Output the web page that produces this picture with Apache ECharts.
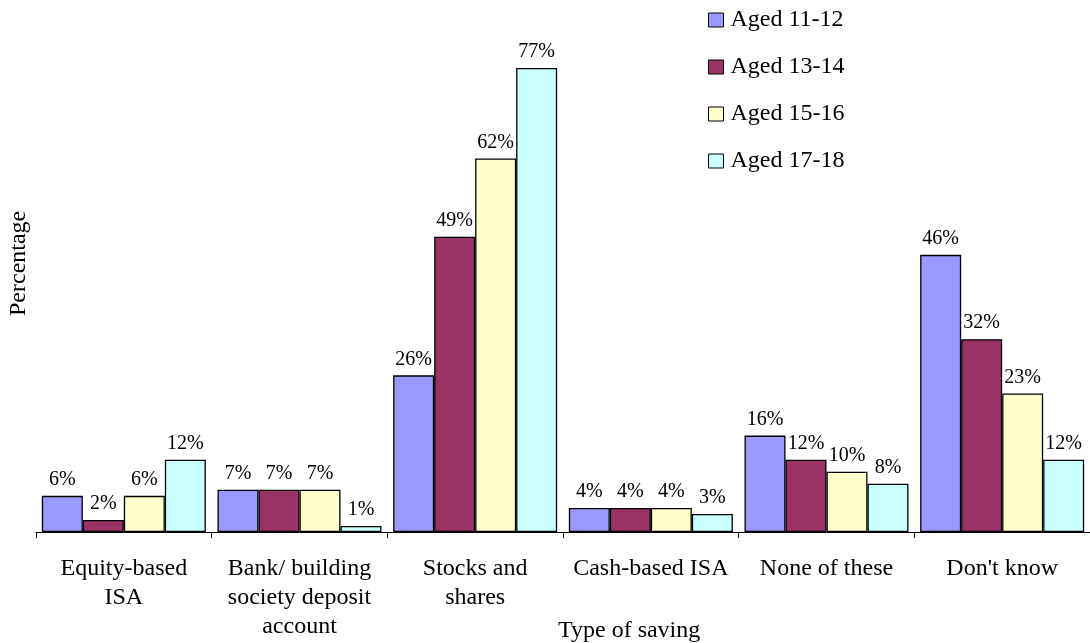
<!DOCTYPE html>
<html>
<head>
<meta charset="utf-8">
<script src="https://cdn.jsdelivr.net/npm/echarts@6/dist/echarts.min.js"></script>
<style>
  html, body { margin: 0; padding: 0; background: #fff; }
  #chart { width: 1090px; height: 643px; }
</style>
</head>
<body>
<div id="chart"></div>
<script>
const categories = ['Equity-based\nISA', 'Bank/ building\nsociety deposit\naccount', 'Stocks and\nshares', 'Cash-based ISA', 'None of these', "Don't know"];
const seriesNames = ['Aged 11-12', 'Aged 13-14', 'Aged 15-16', 'Aged 17-18'];
const aged1112 = [6, 7, 26, 4, 16, 46];
const aged1314 = [2, 7, 49, 4, 12, 32];
const aged1516 = [6, 7, 62, 4, 10, 23];
const aged1718 = [12, 1, 77, 3, 8, 12];
const colors = ['#9999FF', '#993366', '#FFFFCC', '#CCFFFF'];

const font = '"Liberation Serif", "Times New Roman", serif';
const chart = echarts.init(document.getElementById('chart'));

const makeSeries = (name, data, i) => ({
  name: name,
  type: 'bar',
  data: data,
  barWidth: 41,
  barGap: '0%',
  itemStyle: { color: colors[i], borderColor: '#000', borderWidth: 1.3 },
  label: {
    show: true,
    position: 'top',
    distance: 6,
    formatter: '{c}%',
    color: '#000',
    fontFamily: font,
    fontSize: 20
  }
});

chart.setOption({
  animation: false,
  textStyle: { fontFamily: font },
  grid: { left: 36, top: 50, width: 1056, height: 482 },
  legend: {
    orient: 'vertical',
    left: 703,
    top: 3,
    itemWidth: 15,
    itemHeight: 14,
    itemGap: 23,
    icon: 'rect',
    itemStyle: { borderColor: '#000', borderWidth: 1 },
    textStyle: { fontFamily: font, fontSize: 24, color: '#000', padding: [0, 0, 0, 2] },
    data: seriesNames
  },
  xAxis: {
    type: 'category',
    data: categories,
    axisLine: { lineStyle: { color: '#000', width: 1 } },
    axisTick: { show: true, length: 6, lineStyle: { color: '#000' } },
    axisLabel: { color: '#000', fontFamily: font, fontSize: 24, lineHeight: 29, margin: 22, interval: 0 }
  },
  yAxis: {
    type: 'value',
    min: 0,
    max: 80,
    axisLine: { show: false },
    axisTick: { show: false },
    axisLabel: { show: false },
    splitLine: { show: false }
  },
  graphic: [
    {
      type: 'text',
      left: 558,
      top: 619,
      style: { text: 'Type of saving', font: '24px ' + font, fill: '#000' }
    },
    {
      type: 'text',
      x: 7,
      y: 316,
      rotation: Math.PI / 2,
      style: { text: 'Percentage', font: '24px ' + font, fill: '#000' }
    }
  ],
  series: [
    makeSeries(seriesNames[0], aged1112, 0),
    makeSeries(seriesNames[1], aged1314, 1),
    makeSeries(seriesNames[2], aged1516, 2),
    makeSeries(seriesNames[3], aged1718, 3)
  ]
});
</script>
</body>
</html>
